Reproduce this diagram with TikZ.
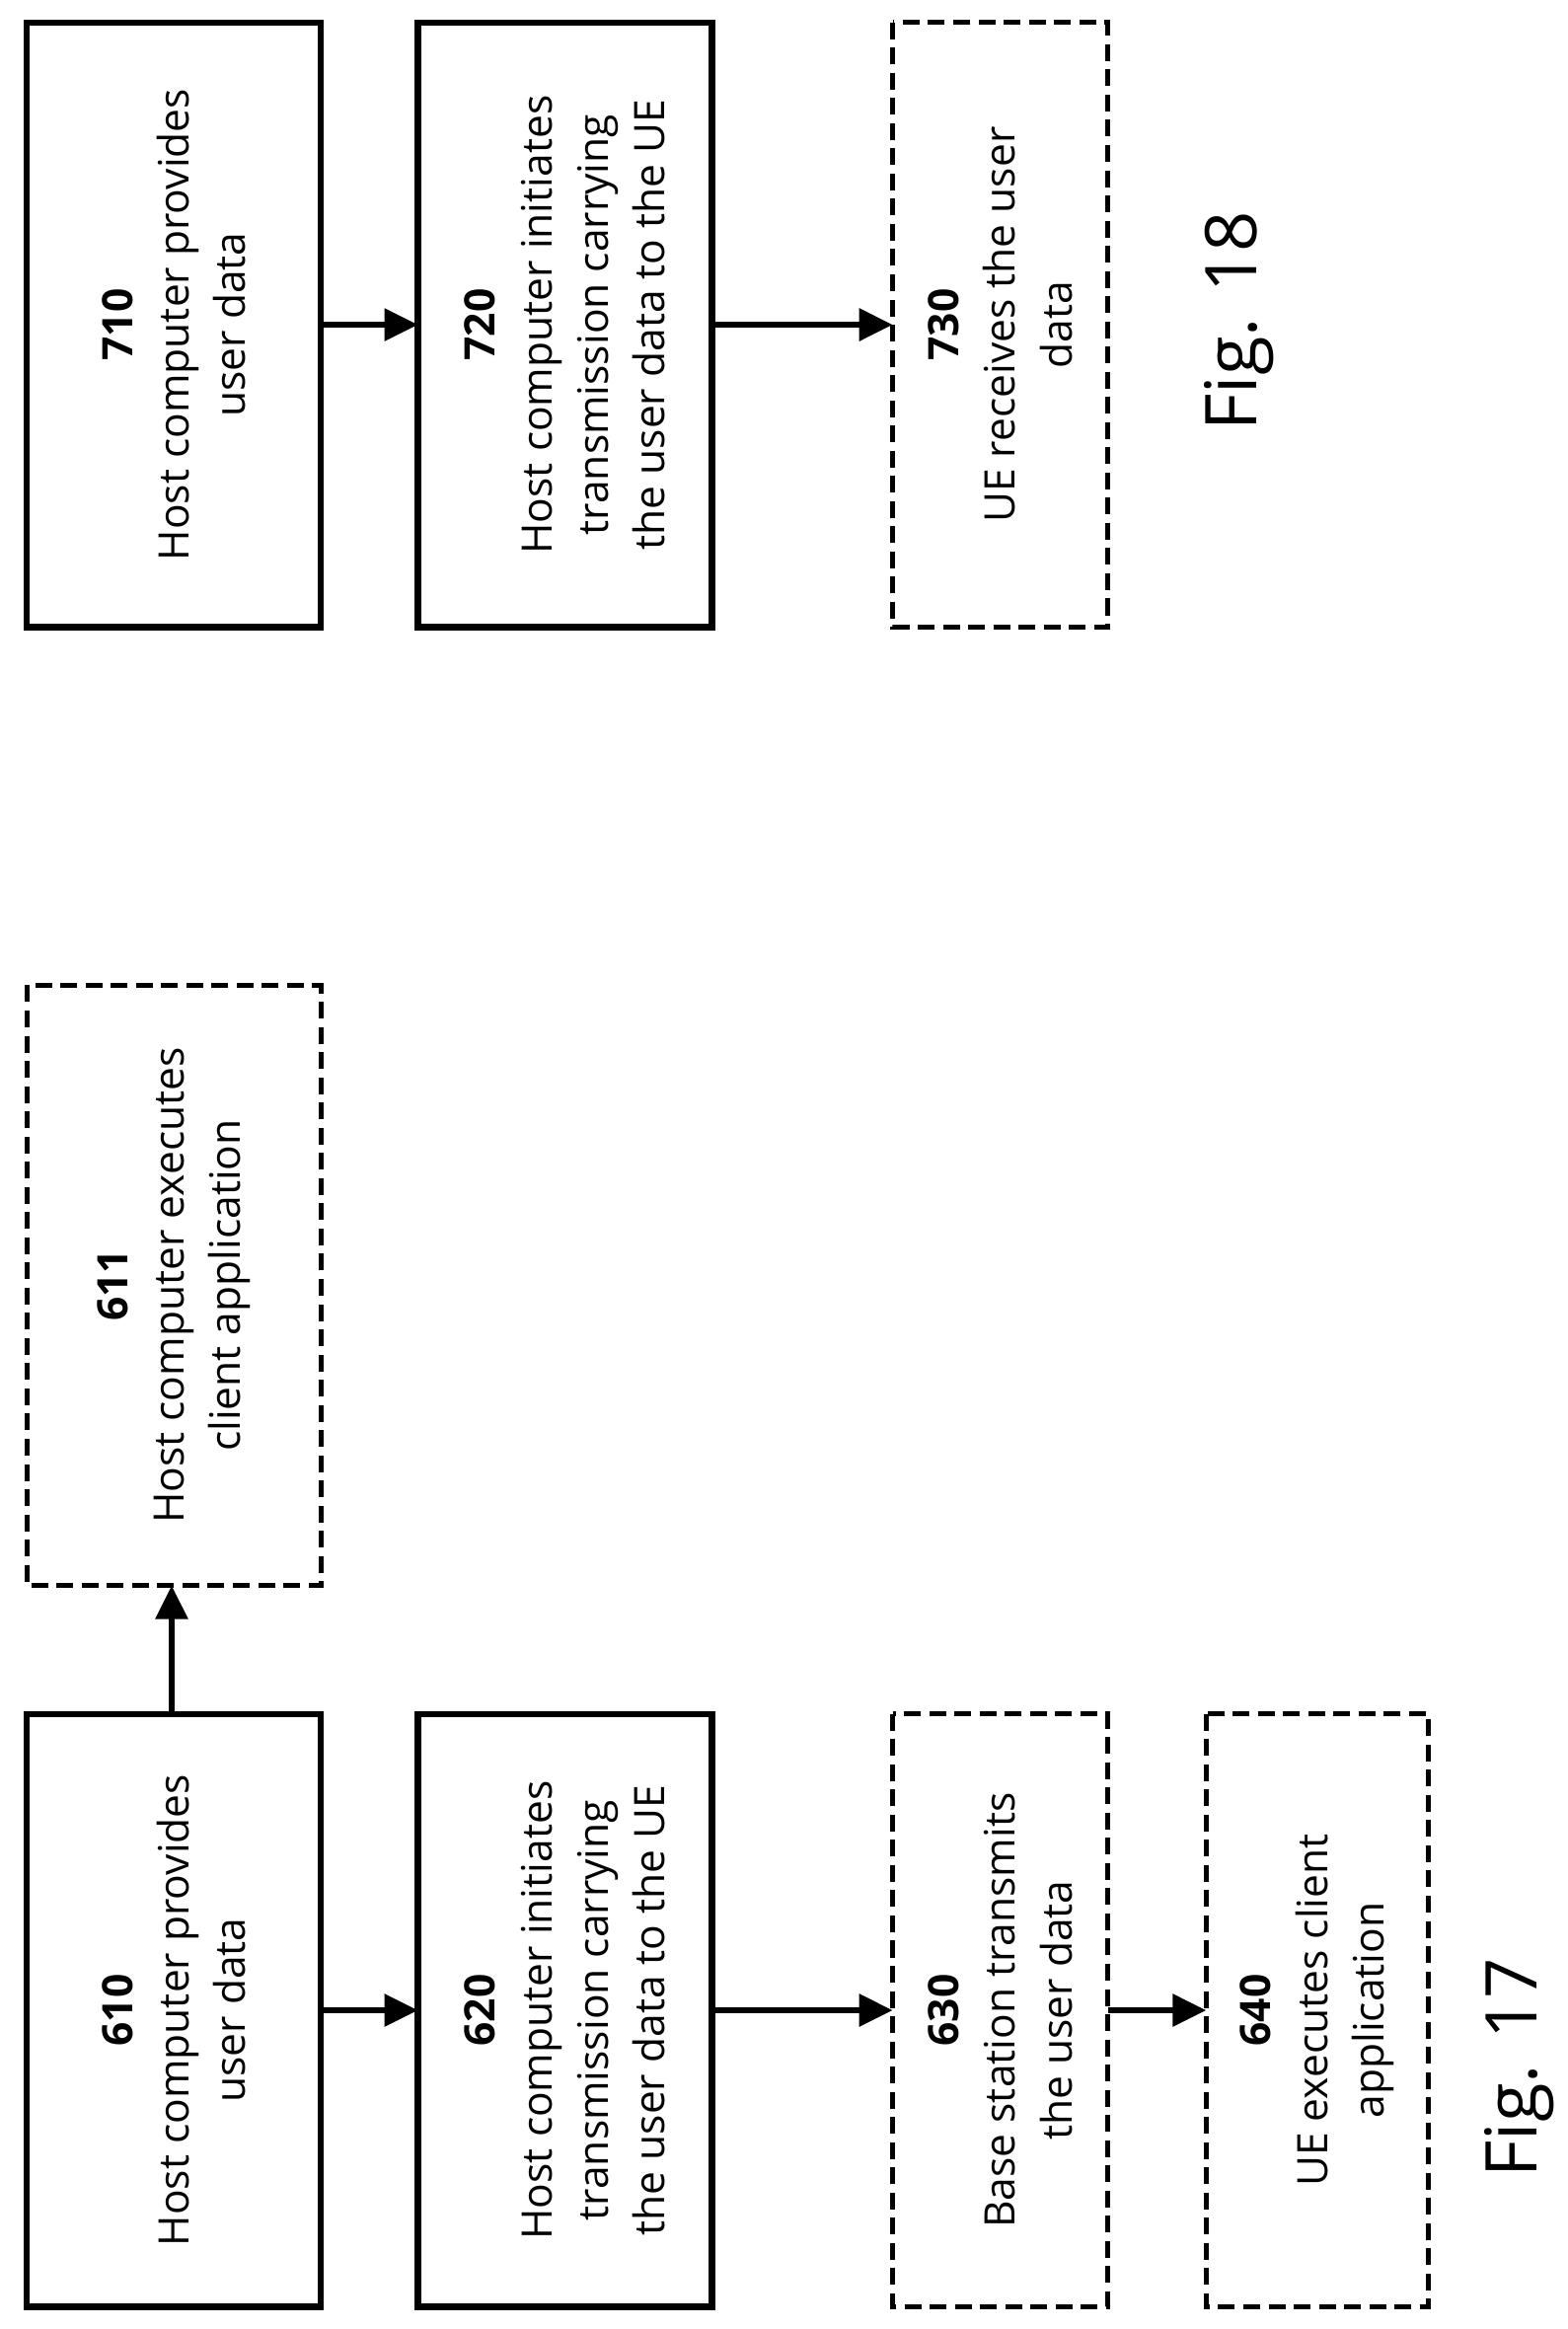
\documentclass[tikz,border=0pt]{standalone}
\usepackage{fontspec}
\setmainfont{Open Sans}
\usetikzlibrary{arrows.meta}
\begin{document}
\begin{tikzpicture}[x=0.025cm,y=-0.025cm,
 box/.style={draw,line width=3pt},
 dbox/.style={draw,line width=2.4pt,dash pattern=on 8pt off 4pt},
 lab/.style={rotate=90,align=center,font=\fontsize{20}{27}\selectfont},
 arr/.style={line width=3pt,-{Triangle[length=16pt,width=15pt]}}]
\useasboundingbox (0,0) rectangle (1050,1560);
\newcommand{\bx}[7]{%
 \draw[#1] (#2,#3) rectangle (#4,#5);
 \node[lab] (#6) at ({(#2+#4)/2},{(#3+#5)/2}) {#7};
 \coordinate (#6-l) at (#2,{(#3+#5)/2});
 \coordinate (#6-r) at (#4,{(#3+#5)/2});
 \coordinate (#6-t) at ({(#2+#4)/2},#3);
 \coordinate (#6-b) at ({(#2+#4)/2},#5);}
\bx{box}{18}{1148}{215}{1545}{a610}{\textbf{610}\\Host computer provides\\user data}
\bx{dbox}{18}{660}{215}{1062}{a611}{\textbf{611}\\Host computer executes\\client application}
\bx{box}{280}{1148}{477}{1545}{a620}{\textbf{620}\\Host computer initiates\\transmission carrying\\the user data to the UE}
\bx{dbox}{598}{1148}{742}{1545}{a630}{\textbf{630}\\Base station transmits\\the user data}
\bx{dbox}{808}{1148}{957}{1545}{a640}{\textbf{640}\\UE executes client\\application}
\bx{box}{18}{15}{215}{420}{a710}{\textbf{710}\\Host computer provides\\user data}
\bx{box}{280}{15}{477}{420}{a720}{\textbf{720}\\Host computer initiates\\transmission carrying\\the user data to the UE}
\bx{dbox}{598}{15}{742}{420}{a730}{\textbf{730}\\UE receives the user\\data}
\coordinate (p1) at (115,1148); \coordinate (p2) at (115,1062);
\draw[arr] (p1) -- (p2);
\draw[arr] (a610-r) -- (a620-l);
\draw[arr] (a620-r) -- (a630-l);
\draw[arr] (a630-r) -- (a640-l);
\draw[arr] (a710-r) -- (a720-l);
\draw[arr] (a720-r) -- (a730-l);
\node[rotate=90,font=\fontsize{34}{40}\selectfont] (f17) at (1018,1385) {Fig. 17};
\node[rotate=90,font=\fontsize{34}{40}\selectfont] (f18) at (830,215) {Fig. 18};
\end{tikzpicture}
\end{document}
